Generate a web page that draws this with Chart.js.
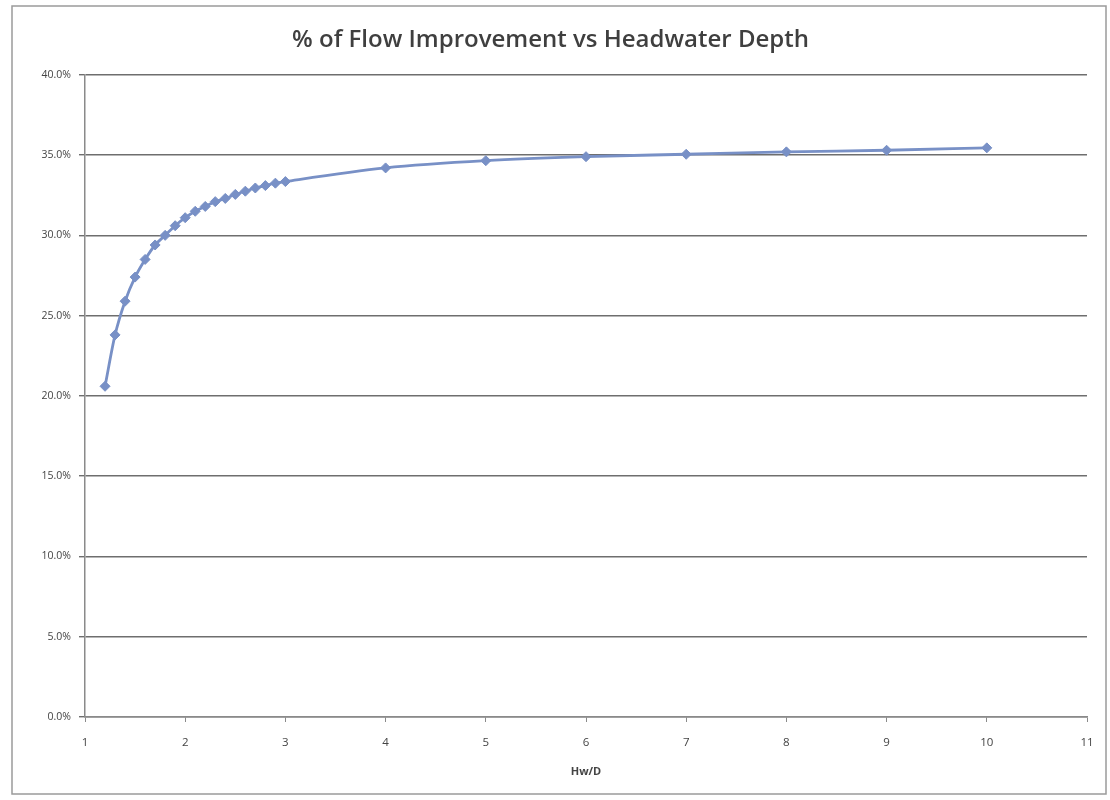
<!DOCTYPE html>
<html>
<head>
<meta charset="utf-8">
<script src="https://cdn.jsdelivr.net/npm/chart.js@4/dist/chart.umd.min.js"></script>
<style>
    html, body { margin: 0; padding: 0; background: #fff; }
    #wrap { width: 1110px; height: 800px; position: relative; }
</style>
</head>
<body>
<div id="wrap"><canvas id="myChart" width="1110" height="800"></canvas></div>
<script>
// Hw/D values and % of flow improvement
const hwD = [1.2, 1.3, 1.4, 1.5, 1.6, 1.7, 1.8, 1.9, 2.0, 2.1, 2.2, 2.3, 2.4, 2.5, 2.6, 2.7, 2.8, 2.9, 3.0,
             4, 5, 6, 7, 8, 9, 10];
const improvement = [20.6, 23.8, 25.9, 27.4, 28.5, 29.4, 30.0, 30.6, 31.1, 31.5, 31.8, 32.1, 32.3, 32.55, 32.75, 32.95, 33.1, 33.25, 33.35,
                     34.2, 34.65, 34.9, 35.05, 35.2, 35.3, 35.45];
const xTicks = [1, 2, 3, 4, 5, 6, 7, 8, 9, 10, 11];
const yTicks = [0, 5, 10, 15, 20, 25, 30, 35, 40];

const lineBlue = '#7890c6';

// thin frame around the whole chart, like the Excel chart border
const framePlugin = {
    id: 'frame',
    beforeDraw(chart) {
        const c = chart.ctx;
        c.save();
        c.fillStyle = '#fff';
        c.fillRect(0, 0, chart.width, chart.height);
        c.strokeStyle = '#9a9a9a';
        c.lineWidth = 1.5;
        c.strokeRect(12, 6, 1094, 788);
        c.restore();
    }
};

const chartSettings = {
    type: 'line',
    data: {
        datasets: [{
            data: hwD.map((x, i) => ({ x: x, y: improvement[i] })),
            borderColor: lineBlue,
            backgroundColor: lineBlue,
            borderWidth: 2.8,
            pointStyle: 'rectRot',
            pointRadius: 5,
            pointBorderWidth: 1,
            cubicInterpolationMode: 'monotone'
        }]
    },
    options: {
        responsive: false,
        animation: false,
        layout: { padding: { top: 18, left: 14, right: 23, bottom: 10 } },
        plugins: {
            legend: { display: false },
            tooltip: { enabled: false },
            title: {
                display: true,
                text: '% of Flow Improvement vs Headwater Depth',
                color: '#3f3f3f',
                font: { family: 'Open Sans', size: 24, weight: 600 },
                padding: { top: 8, bottom: 20 }
            }
        },
        scales: {
            x: {
                type: 'linear',
                min: 1,
                max: 11,
                afterBuildTicks(scale) { scale.ticks = xTicks.map(v => ({ value: v })); },
                afterFit(scale) { scale.height = 73; },
                ticks: {
                    color: '#444',
                    font: { family: 'Open Sans', size: 11.5 },
                    padding: 14,
                    maxRotation: 0
                },
                grid: { drawOnChartArea: false, drawTicks: true, tickLength: 5, color: '#8a8a8a' },
                border: { color: '#8a8a8a', width: 1.5 },
                title: {
                    display: true,
                    text: 'Hw/D',
                    color: '#444',
                    font: { family: 'Open Sans', size: 11, weight: 'bold' },
                    padding: { top: 0, bottom: 12 }
                }
            },
            y: {
                min: 0,
                max: 40,
                afterBuildTicks(scale) { scale.ticks = yTicks.map(v => ({ value: v })); },
                afterFit(scale) { scale.width = 71; },
                ticks: {
                    color: '#444',
                    font: { family: 'Open Sans', size: 10.5 },
                    padding: 8,
                    callback: v => v.toFixed(1) + '%'
                },
                grid: { color: '#6e6e6e', lineWidth: 1.4, tickLength: 6 },
                border: { color: '#8a8a8a', width: 1.5 }
            }
        }
    },
    plugins: [framePlugin]
};

window.onload = function () {
    const ctx = document.getElementById('myChart').getContext('2d');
    new Chart(ctx, chartSettings);
};
</script>
</body>
</html>
